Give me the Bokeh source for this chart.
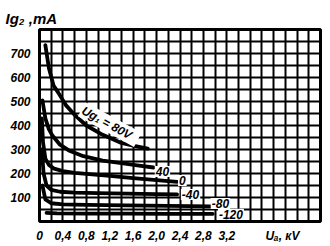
from bokeh.plotting import figure
from bokeh.models import FixedTicker, SingleIntervalTicker, Title, ColumnDataSource
from bokeh.core.properties import value
from bokeh.embed import file_html
from bokeh.resources import INLINE

# ---- data ----
ua_80 = [0.10, 0.16, 0.24, 0.32, 0.45, 0.61, 0.80, 1.05, 1.38, 1.62, 1.85]
ig_80 = [735, 640, 567, 537, 485, 442, 400, 365, 329, 315, 304]

ua_40 = [0.05, 0.10, 0.16, 0.22, 0.35, 0.50, 0.75, 1.08, 1.40, 1.70, 1.95]
ig_40 = [505, 430, 385, 358, 320, 296, 272, 254, 243, 233, 225]

ua_0 = [0.04, 0.06, 0.10, 0.16, 0.25, 0.40, 0.60, 0.90, 1.20, 1.60, 2.00, 2.35]
ig_0 = [430, 330, 262, 236, 220, 210, 203, 196, 190, 181, 172, 165]

ua_m40 = [0.04, 0.07, 0.12, 0.20, 0.35, 0.60, 1.00, 1.50, 2.00, 2.35]
ig_m40 = [300, 200, 150, 132, 124, 120, 118, 116, 114, 113]

ua_m80 = [0.05, 0.10, 0.20, 0.40, 0.80, 1.50, 2.20, 2.92]
ig_m80 = [150, 92, 76, 71, 69, 67, 65, 63]

ua_m120 = [0.12, 0.30, 0.80, 1.50, 2.20, 2.96]
ig_m120 = [36, 34, 33, 33, 32, 32]

curve_label_text = ["Ug\u2081 =   80V", "40", "0", "-40", "-80", "-120"]
curve_label_x = [1.20, 2.10, 2.44, 2.58, 3.09, 3.27]
curve_label_y = [404, 208, 171, 112, 75, 30]
curve_label_angle = [-0.5, 0, 0, 0, 0, 0]

x_ticks = [0, 0.4, 0.8, 1.2, 1.6, 2.0, 2.4, 2.8, 3.2, 4.15]
x_tick_labels = ["0", "0,4", "0,8", "1,2", "1,6", "2,0", "2,4", "2,8", "3,2", "U\u2090, \u043aV"]
y_ticks = [100, 200, 300, 400, 500, 600, 700]
y_tick_labels = ["100", "200", "300", "400", "500", "600", "700"]
y_title = "Ig\u2082 ,mA"

FONT = "Liberation Sans"

p = figure(width=330, height=246, x_range=(0, 4.8), y_range=(0, 800),
           output_backend="svg", toolbar_location=None,
           min_border_left=39, min_border_right=10, min_border_top=29, min_border_bottom=25)
p.background_fill_color = "white"
p.border_fill_color = "white"
p.outline_line_color = "black"
p.outline_line_width = 3

p.xgrid.ticker = SingleIntervalTicker(interval=0.2)
p.ygrid.ticker = SingleIntervalTicker(interval=50)
for g in (p.xgrid, p.ygrid):
    g.grid_line_color = "black"
    g.grid_line_width = 2
    g.grid_line_alpha = 1.0

p.xaxis.ticker = FixedTicker(ticks=x_ticks)
p.xaxis.major_label_overrides = dict(zip(x_ticks, x_tick_labels))
p.yaxis.ticker = FixedTicker(ticks=y_ticks)
p.yaxis.major_label_overrides = dict(zip(y_ticks, y_tick_labels))
for ax in (p.xaxis, p.yaxis):
    ax.axis_line_color = None
    ax.major_tick_line_color = None
    ax.minor_tick_line_color = None
    ax.major_label_text_font = FONT
    ax.major_label_text_font_style = "bold italic"
    ax.major_label_text_font_size = "12px"
    ax.major_label_text_color = "black"
p.xaxis.major_label_standoff = 1
p.yaxis.major_label_standoff = 3

for xs, ys in [(ua_80, ig_80), (ua_40, ig_40), (ua_0, ig_0),
               (ua_m40, ig_m40), (ua_m80, ig_m80), (ua_m120, ig_m120)]:
    p.line(xs, ys, line_color="black", line_width=3.8, line_cap="round", line_join="round")

src = ColumnDataSource(dict(x=curve_label_x, y=curve_label_y, t=curve_label_text, a=curve_label_angle))
p.text(x="x", y="y", text="t", angle="a", source=src,
       text_font=value(FONT), text_font_style="bold italic", text_font_size="12px",
       text_align="center", text_baseline="middle", text_color="black",
       background_fill_color="white", padding=1)

p.add_layout(Title(text=y_title, align="left", offset=-34, text_font=FONT,
                   text_font_style="bold italic", text_font_size="15px",
                   text_color="black", standoff=6), "above")

open("out.html", "w").write(file_html(p, INLINE))
